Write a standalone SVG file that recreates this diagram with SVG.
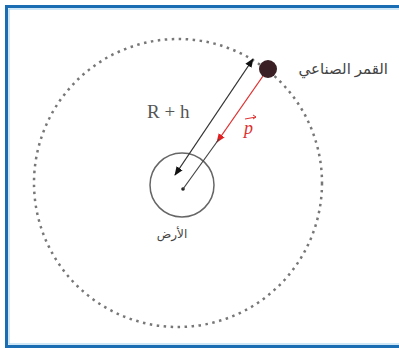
<svg xmlns="http://www.w3.org/2000/svg" width="399" height="350" viewBox="0 0 399 350">
<style>
.ar{font-family:"Noto Sans","DejaVu Sans",sans-serif;fill:#444}
.lbl{font-family:"Liberation Serif",serif;font-size:19px;fill:#555}
</style>
<defs>
<marker id="ab" viewBox="0 0 10 10" refX="9" refY="5" markerWidth="7" markerHeight="7" orient="auto-start-reverse" markerUnits="strokeWidth"><path d="M0,1 L10,5 L0,9 z" fill="#111"/></marker>
<marker id="ar" viewBox="0 0 10 10" refX="9" refY="5" markerWidth="7" markerHeight="7" orient="auto" markerUnits="strokeWidth"><path d="M0,1 L10,5 L0,9 z" fill="#e02020"/></marker>
</defs>
<rect x="0" y="0" width="399" height="350" fill="#fff"/>
<rect x="6.5" y="6.5" width="400" height="340" fill="none" stroke="#1b6db3" stroke-width="3"/>
<rect x="9" y="9" width="400" height="335" fill="none" stroke="#9fd0ee" stroke-width="1"/>
<g id="orbit"><circle cx="178" cy="183" r="144" fill="none" stroke="#777" stroke-width="2.5" stroke-dasharray="2.5 4.5"/></g>
<g id="earth"><circle cx="182" cy="185" r="32" fill="none" stroke="#666" stroke-width="1.5"/><circle cx="183" cy="189" r="1.8" fill="#222"/><text class="ar" x="172" y="238" font-size="12" text-anchor="middle">الأرض</text></g>
<g id="connectors">
<line x1="175" y1="175" x2="253" y2="59" stroke="#333" stroke-width="1.3" marker-start="url(#ab)" marker-end="url(#ab)"/>
<line x1="263" y1="76" x2="217" y2="142" stroke="#e03030" stroke-width="1.3" marker-end="url(#ar)"/>
<line x1="219" y1="139" x2="183" y2="189" stroke="#444" stroke-width="1.2"/>
</g>
<g id="satellite"><circle cx="268" cy="69" r="9" fill="#3a2025"/><text class="ar" x="388" y="74" font-size="15" text-anchor="end">القمر الصناعي</text></g>
<g id="labels">
<text class="lbl" x="147" y="118">R + h</text>
<text x="244" y="134" font-family="Liberation Serif,serif" font-style="italic" font-size="18" fill="#e03030">p</text>
<path d="M245,119 L256,117" stroke="#e03030" stroke-width="1"/>
<path d="M253,115 L256,117 L253,119" fill="none" stroke="#e03030" stroke-width="1"/>
</g>
</svg>
